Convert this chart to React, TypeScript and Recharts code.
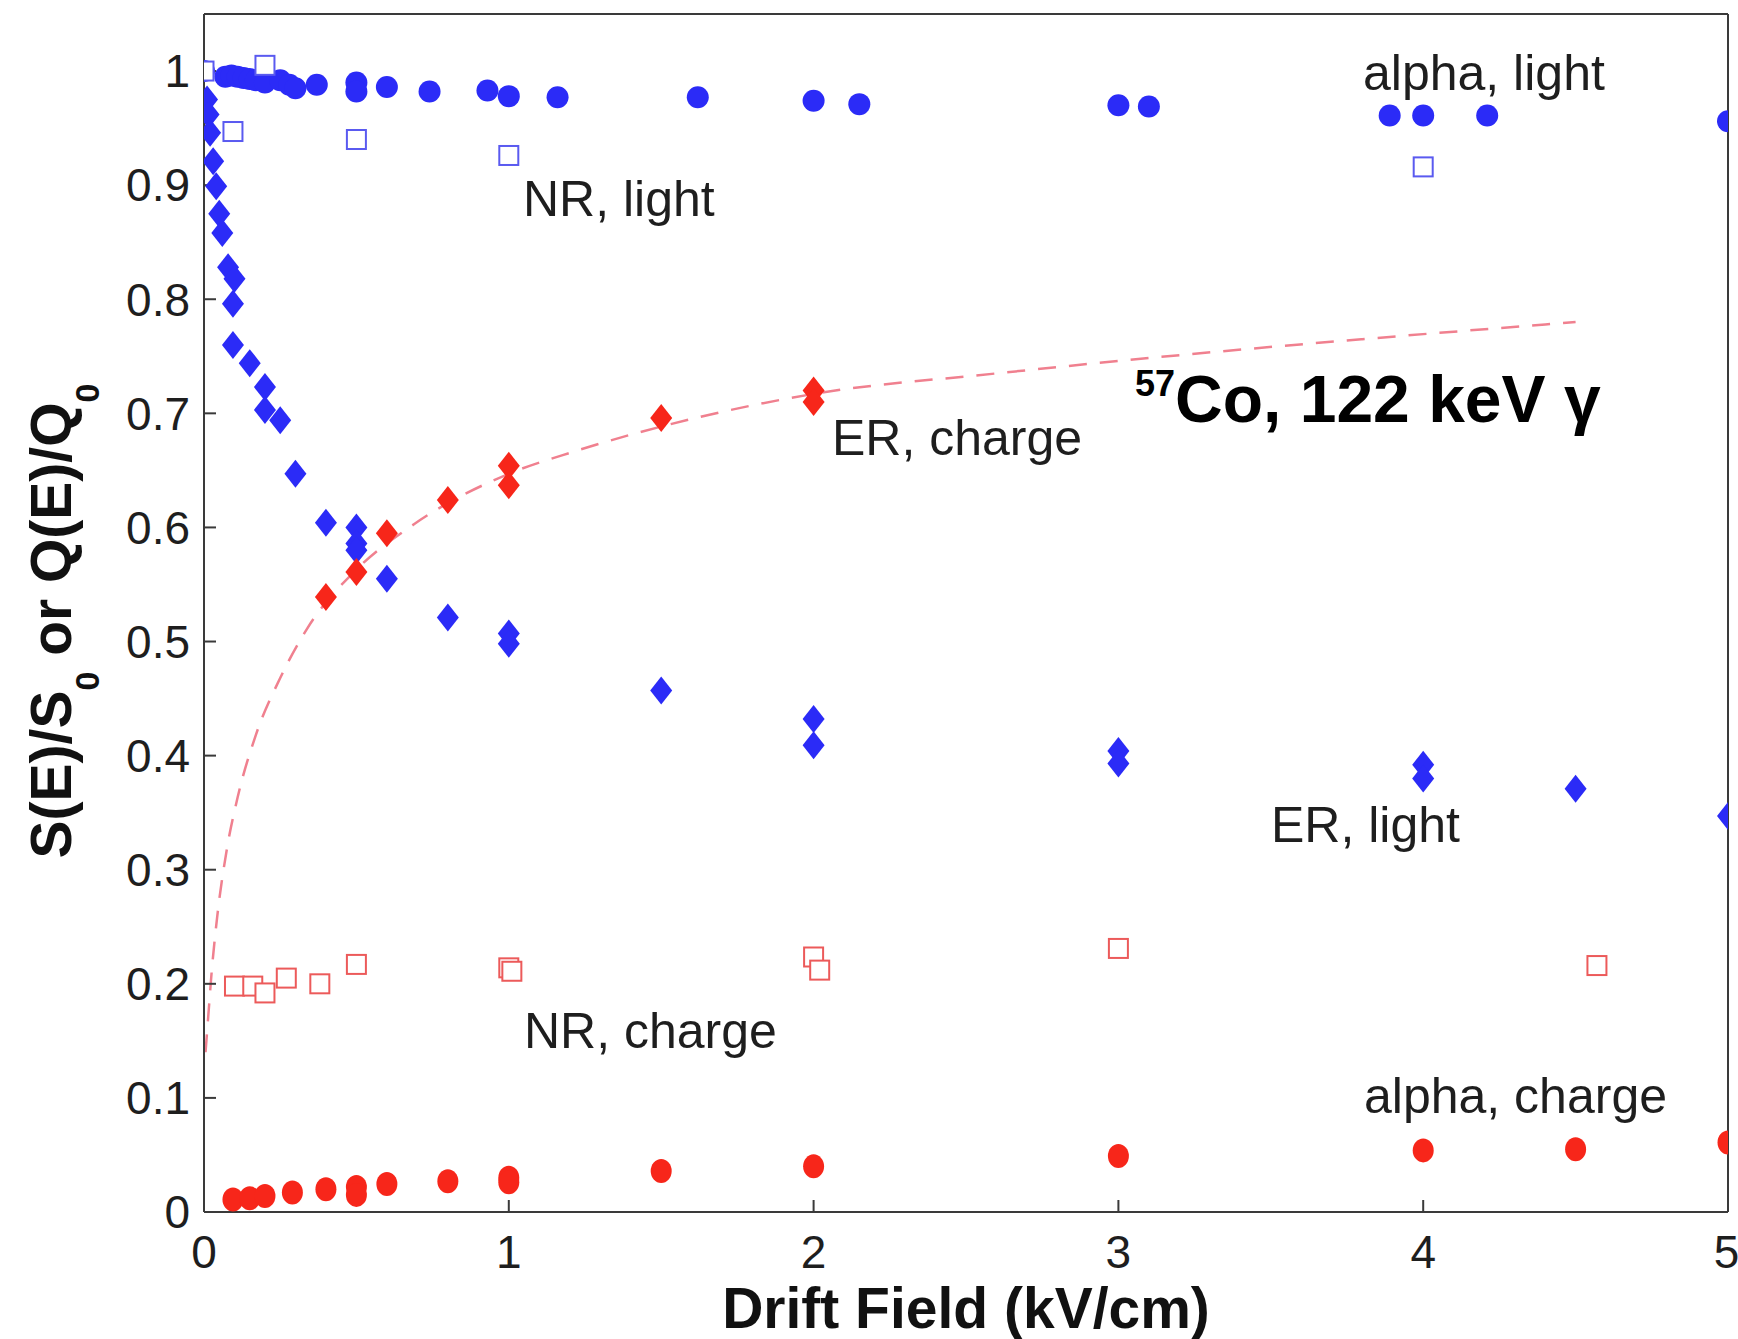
import React from 'react';
import { ComposedChart, Scatter, Line, XAxis, YAxis } from 'recharts';

// ---- data ----
const xTicks = [0, 1, 2, 3, 4, 5];
const yTicks = [0, 0.1, 0.2, 0.3, 0.4, 0.5, 0.6, 0.7, 0.8, 0.9, 1];

const alphaLight = [
  { x: 0.0, y: 1.0 }, { x: 0.07, y: 0.995 }, { x: 0.09, y: 0.996 }, { x: 0.11, y: 0.995 },
  { x: 0.13, y: 0.994 }, { x: 0.15, y: 0.993 }, { x: 0.17, y: 0.992 }, { x: 0.2, y: 0.99 },
  { x: 0.25, y: 0.992 }, { x: 0.28, y: 0.988 }, { x: 0.3, y: 0.985 }, { x: 0.37, y: 0.988 },
  { x: 0.5, y: 0.99 }, { x: 0.5, y: 0.982 }, { x: 0.6, y: 0.986 }, { x: 0.74, y: 0.982 },
  { x: 0.93, y: 0.983 }, { x: 1.0, y: 0.978 }, { x: 1.16, y: 0.977 }, { x: 1.62, y: 0.977 },
  { x: 2.0, y: 0.974 }, { x: 2.15, y: 0.971 }, { x: 3.0, y: 0.97 }, { x: 3.1, y: 0.969 },
  { x: 3.89, y: 0.961 }, { x: 4.0, y: 0.961 }, { x: 4.21, y: 0.961 }, { x: 5.0, y: 0.956 },
];

const nrLight = [
  { x: 0.0, y: 1.0 }, { x: 0.2, y: 1.005 }, { x: 0.095, y: 0.947 }, { x: 0.5, y: 0.94 },
  { x: 1.0, y: 0.926 }, { x: 4.0, y: 0.916 },
];

const erLight = [
  { x: 0.01, y: 0.975 }, { x: 0.015, y: 0.962 }, { x: 0.02, y: 0.946 }, { x: 0.03, y: 0.921 },
  { x: 0.04, y: 0.899 }, { x: 0.05, y: 0.875 }, { x: 0.06, y: 0.858 }, { x: 0.079, y: 0.828 },
  { x: 0.1, y: 0.818 }, { x: 0.095, y: 0.796 }, { x: 0.095, y: 0.76 }, { x: 0.15, y: 0.744 },
  { x: 0.2, y: 0.723 }, { x: 0.2, y: 0.703 }, { x: 0.25, y: 0.694 }, { x: 0.3, y: 0.647 },
  { x: 0.4, y: 0.604 }, { x: 0.5, y: 0.6 }, { x: 0.5, y: 0.586 }, { x: 0.5, y: 0.58 },
  { x: 0.6, y: 0.555 }, { x: 0.8, y: 0.521 }, { x: 1.0, y: 0.507 }, { x: 1.0, y: 0.498 },
  { x: 1.5, y: 0.457 }, { x: 2.0, y: 0.432 }, { x: 2.0, y: 0.409 }, { x: 3.0, y: 0.404 },
  { x: 3.0, y: 0.393 }, { x: 4.0, y: 0.392 }, { x: 4.0, y: 0.38 }, { x: 4.5, y: 0.371 },
  { x: 5.0, y: 0.347 },
];

const erCharge = [
  { x: 0.4, y: 0.539 }, { x: 0.5, y: 0.561 }, { x: 0.6, y: 0.595 }, { x: 0.8, y: 0.624 },
  { x: 1.0, y: 0.654 }, { x: 1.0, y: 0.637 }, { x: 1.5, y: 0.696 }, { x: 2.0, y: 0.72 },
  { x: 2.0, y: 0.71 },
];

const nrCharge = [
  { x: 0.1, y: 0.198 }, { x: 0.16, y: 0.198 }, { x: 0.2, y: 0.192 }, { x: 0.27, y: 0.205 },
  { x: 0.38, y: 0.2 }, { x: 0.5, y: 0.217 }, { x: 1.0, y: 0.214 }, { x: 1.01, y: 0.211 },
  { x: 2.0, y: 0.2235 }, { x: 2.02, y: 0.212 }, { x: 3.0, y: 0.231 }, { x: 4.57, y: 0.216 },
];

const alphaCharge = [
  { x: 0.095, y: 0.011 }, { x: 0.15, y: 0.012 }, { x: 0.2, y: 0.014 }, { x: 0.29, y: 0.017 },
  { x: 0.4, y: 0.02 }, { x: 0.5, y: 0.022 }, { x: 0.5, y: 0.015 }, { x: 0.6, y: 0.0245 },
  { x: 0.8, y: 0.027 }, { x: 1.0, y: 0.03 }, { x: 1.0, y: 0.026 }, { x: 1.5, y: 0.036 },
  { x: 2.0, y: 0.04 }, { x: 3.0, y: 0.049 }, { x: 4.0, y: 0.054 }, { x: 4.5, y: 0.055 },
  { x: 5.0, y: 0.061 },
];

const erChargeFit = [
  { x: 0.005, y: 0.14 }, { x: 0.013, y: 0.168 }, { x: 0.025, y: 0.21 }, { x: 0.043, y: 0.258 },
  { x: 0.075, y: 0.318 }, { x: 0.11, y: 0.363 }, { x: 0.17, y: 0.418 }, { x: 0.25, y: 0.468 },
  { x: 0.34, y: 0.512 }, { x: 0.5, y: 0.563 }, { x: 0.69, y: 0.603 }, { x: 1.0, y: 0.647 },
  { x: 1.22, y: 0.667 }, { x: 1.63, y: 0.697 }, { x: 2.0, y: 0.717 }, { x: 2.6, y: 0.735 },
  { x: 3.2, y: 0.751 }, { x: 3.8, y: 0.765 }, { x: 4.5, y: 0.78 },
];

// ---- styles ----
const BLUE = '#2b2bf7';
const RED = '#f7261a';
const BLUE_OPEN = '#5a5af0';
const RED_OPEN = '#ec5a5a';
const FIT = '#f0808f';
const AXIS = '#3a3a3a';
const TEXT = '#1e1e1e';
const FONT = '"Liberation Sans", Arial, Helvetica, sans-serif';

const Dot = (c: string, r: number, ry?: number) => (p: any) =>
  p.cx == null ? null : <ellipse cx={p.cx} cy={p.cy} rx={r} ry={ry ?? r} fill={c} />;

const Diamond = (c: string) => (p: any) =>
  p.cx == null ? null : (
    <polygon
      points={`${p.cx},${p.cy - 14} ${p.cx + 11},${p.cy} ${p.cx},${p.cy + 14} ${p.cx - 11},${p.cy}`}
      fill={c}
    />
  );

const Square = (c: string) => (p: any) =>
  p.cx == null ? null : (
    <rect x={p.cx - 9.5} y={p.cy - 9.5} width={19} height={19} fill="#fff" stroke={c} strokeWidth={2} />
  );

const Nothing = () => null;

const yFmt = (v: number) => (v === 0 ? '0' : v === 1 ? '1' : v.toFixed(1));

const tickStyle = { fontSize: 46, fill: TEXT, fontFamily: FONT };

export default function App() {
  return (
    <div style={{ position: 'absolute', left: 0, top: 0, background: '#fff' }}>
      <ComposedChart
        width={1738}
        height={1339}
        margin={{ top: 13, right: 9, bottom: 67, left: 74 }}
      >
        <XAxis
          xAxisId="b"
          dataKey="x"
          type="number"
          domain={[0, 5]}
          ticks={xTicks}
          allowDataOverflow
          height={60}
          axisLine={{ stroke: AXIS, strokeWidth: 2 }}
          tickLine={{ stroke: AXIS, strokeWidth: 2 }}
          tickSize={-12}
          tickMargin={35}
          tick={tickStyle}
        />
        <XAxis
          xAxisId="t"
          dataKey="x"
          orientation="top"
          type="number"
          domain={[0, 5]}
          ticks={xTicks}
          allowDataOverflow
          height={1}
          axisLine={{ stroke: AXIS, strokeWidth: 2 }}
          tickLine={{ stroke: AXIS, strokeWidth: 2 }}
          tickSize={-12}
          tick={false}
        />
        <YAxis
          yAxisId="l"
          dataKey="y"
          type="number"
          domain={[0, 1.05]}
          ticks={yTicks}
          allowDataOverflow
          width={130}
          axisLine={{ stroke: AXIS, strokeWidth: 2 }}
          tickLine={{ stroke: AXIS, strokeWidth: 2 }}
          tickSize={-12}
          tickMargin={26}
          tickFormatter={yFmt}
          tick={tickStyle}
        />
        <YAxis
          yAxisId="r"
          dataKey="y"
          orientation="right"
          type="number"
          domain={[0, 1.05]}
          ticks={yTicks}
          allowDataOverflow
          width={1}
          axisLine={{ stroke: AXIS, strokeWidth: 2 }}
          tickLine={{ stroke: AXIS, strokeWidth: 2 }}
          tickSize={-12}
          tick={false}
        />

        {/* invisible series so that the top/right frame axes are drawn */}
        <Scatter xAxisId="t" yAxisId="r" data={alphaLight} dataKey="y" shape={Nothing} isAnimationActive={false} />

        <Line
          xAxisId="b"
          yAxisId="l"
          data={erChargeFit}
          dataKey="y"
          type="monotone"
          stroke={FIT}
          strokeWidth={2.5}
          strokeDasharray="18 13"
          dot={false}
          activeDot={false}
          isAnimationActive={false}
        />
        <Scatter xAxisId="b" yAxisId="l" data={nrCharge} dataKey="y" shape={Square(RED_OPEN)} isAnimationActive={false} />
        <Scatter xAxisId="b" yAxisId="l" data={alphaCharge} dataKey="y" shape={Dot(RED, 10.5, 12)} isAnimationActive={false} />
        <Scatter xAxisId="b" yAxisId="l" data={erLight} dataKey="y" shape={Diamond(BLUE)} isAnimationActive={false} />
        <Scatter xAxisId="b" yAxisId="l" data={erCharge} dataKey="y" shape={Diamond(RED)} isAnimationActive={false} />
        <Scatter xAxisId="b" yAxisId="l" data={alphaLight} dataKey="y" shape={Dot(BLUE, 11)} isAnimationActive={false} />
        <Scatter xAxisId="b" yAxisId="l" data={nrLight} dataKey="y" shape={Square(BLUE_OPEN)} isAnimationActive={false} />

        <g fontFamily={FONT} fill={TEXT} fontSize={50}>
          <text x={1363} y={90}>alpha, light</text>
          <text x={523} y={216}>NR, light</text>
          <text x={832} y={455}>ER, charge</text>
          <text x={1271} y={842}>ER, light</text>
          <text x={524} y={1048}>NR, charge</text>
          <text x={1364} y={1113}>alpha, charge</text>
        </g>
        <text x={1135} y={422} fontFamily={FONT} fontWeight="bold" fill="#000" fontSize={66}>
          <tspan fontSize={36} dy={-26}>57</tspan>
          <tspan dy={26}>Co, 122 keV γ</tspan>
        </text>
        <text
          x={966}
          y={1328}
          textAnchor="middle"
          fontFamily={FONT}
          fontWeight="bold"
          fontSize={57}
          fill="#111"
        >
          Drift Field (kV/cm)
        </text>
        <text
          transform="translate(71,621) rotate(-90)"
          x={0}
          y={0}
          textAnchor="middle"
          fontFamily={FONT}
          fontWeight="bold"
          fontSize={57}
          fill="#111"
        >
          <tspan>S(E)/S</tspan>
          <tspan fontSize={34} dy={28}>0</tspan>
          <tspan dy={-28}> or Q(E)/Q</tspan>
          <tspan fontSize={34} dy={28}>0</tspan>
        </text>
      </ComposedChart>
    </div>
  );
}
